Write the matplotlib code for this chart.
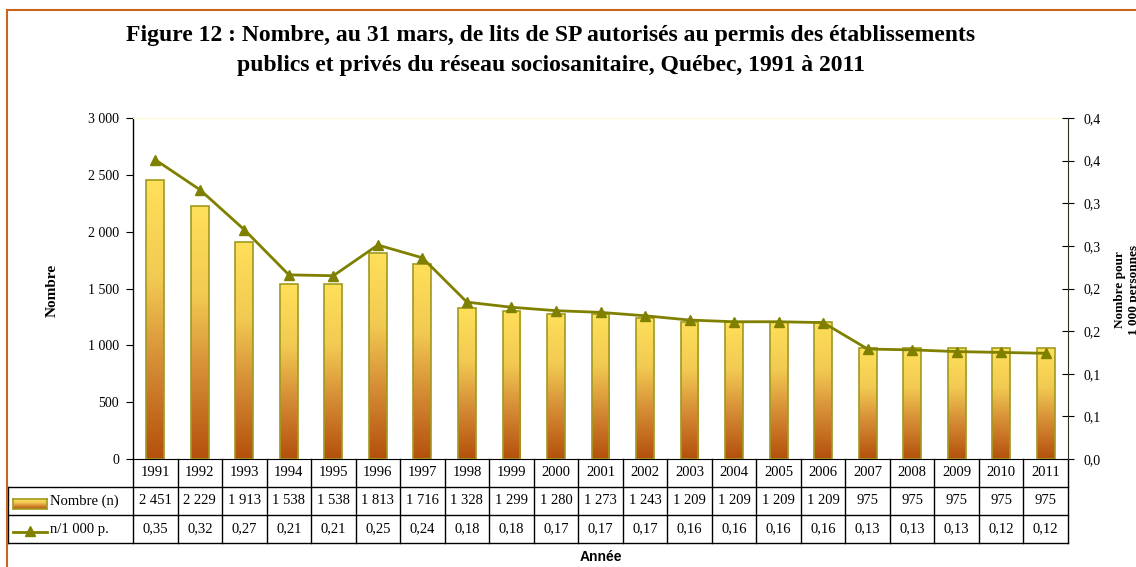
import matplotlib
matplotlib.use("Agg")
import matplotlib.pyplot as plt
import numpy as np
from matplotlib.colors import LinearSegmentedColormap
from matplotlib.patches import Rectangle
from matplotlib.lines import Line2D
from matplotlib.ticker import FuncFormatter

years = ["1991", "1992", "1993", "1994", "1995", "1996", "1997", "1998", "1999", "2000", "2001",
         "2002", "2003", "2004", "2005", "2006", "2007", "2008", "2009", "2010", "2011"]
nombre = [2451, 2229, 1913, 1538, 1538, 1813, 1716, 1328, 1299, 1280, 1273,
          1243, 1209, 1209, 1209, 1209, 975, 975, 975, 975, 975]
# taux (plus precis que le tableau)
taux = [0.351, 0.316, 0.269, 0.216, 0.215, 0.251, 0.236, 0.184, 0.178, 0.174, 0.172,
        0.168, 0.163, 0.161, 0.161, 0.160, 0.129, 0.128, 0.126, 0.125, 0.124]
taux_txt = ["0,35", "0,32", "0,27", "0,21", "0,21", "0,25", "0,24", "0,18", "0,18", "0,17", "0,17",
            "0,17", "0,16", "0,16", "0,16", "0,16", "0,13", "0,13", "0,13", "0,12", "0,12"]
left_ticks = [0, 500, 1000, 1500, 2000, 2500, 3000]
right_ticks = [0, 0.05, 0.1, 0.15, 0.2, 0.25, 0.3, 0.35, 0.4]
right_labels = ["0,0", "0,1", "0,1", "0,2", "0,2", "0,3", "0,3", "0,4", "0,4"]

SERIF = "Liberation Serif"
W, H = 1136, 567
OLIVE = "#808000"
ORANGE = "#C8641E"

grad = LinearSegmentedColormap.from_list(
    "bar", [(0, "#B4500C"), (0.35, "#D68E36"), (0.65, "#F2CA52"), (1, "#FFE05A")])
gvals = np.linspace(0, 1, 256).reshape(-1, 1)


def px(x, y):
    return x / W, 1 - y / H


def fmt_thousands(v):
    return f"{int(v):,}".replace(",", " ")


def main():
    plt.rcParams['font.family'] = [SERIF, 'DejaVu Serif']
    fig = plt.figure(figsize=(W / 100, H / 100), dpi=100)

    # cadre orange (seuls haut et gauche visibles)
    fig.patches.append(Rectangle(px(7, 600), (1200 - 7) / W, (600 - 10) / H,
                                 transform=fig.transFigure, fill=False,
                                 edgecolor=ORANGE, lw=1.5))

    left, right, top, bottom = 133, 1068, 118, 459
    ax = fig.add_axes([left / W, 1 - bottom / H, (right - left) / W, (bottom - top) / H])
    x = np.arange(len(years))

    bars = ax.bar(x, nombre, width=0.4, color="none", edgecolor="#A09A20", lw=1.2, zorder=3)
    for b in bars:
        bx, by = b.get_x(), b.get_y()
        im = ax.imshow(gvals, cmap=grad, origin="lower", aspect="auto",
                       extent=[bx, bx + b.get_width(), by, by + b.get_height()], zorder=2)
        im.set_clip_path(b)

    ax.set_xlim(-0.5, len(years) - 0.5)
    ax.set_ylim(0, 3000)
    ax.set_yticks(left_ticks)
    ax.yaxis.set_major_formatter(FuncFormatter(lambda v, p: fmt_thousands(v)))
    ax.tick_params(axis="y", direction="out", length=5, labelsize=10, pad=5)
    ax.set_xticks([])
    ax.spines["top"].set_color("#FFFBD0")
    ax.spines["right"].set_visible(False)
    ax.spines["left"].set_linewidth(1)

    ax2 = ax.twinx()
    ax2.plot(x, taux, color=OLIVE, lw=2, marker="^", markersize=7, zorder=4)
    ax2.set_ylim(0, 0.4)
    ax2.set_yticks(right_ticks)
    ax2.set_yticklabels(right_labels)
    ax2.tick_params(axis="y", direction="inout", length=8, labelsize=10, pad=7)
    ax2.spines["right"].set_color("#303020")
    ax2.spines["top"].set_visible(False)
    ax2.spines["left"].set_visible(False)
    ax2.spines["bottom"].set_visible(False)
    ax2.set_xlim(-0.5, len(years) - 0.5)

    # tableau sous le graphique
    rh = 28 / (bottom - top)
    tr = ax.get_xaxis_transform()
    xl = (8 - left) / (right - left)
    n = len(years)
    for i in range(n + 1):
        ax.add_line(Line2D([i - 0.5, i - 0.5], [0, -3 * rh], transform=tr, color="black",
                           lw=1, clip_on=False))
    for k in range(1, 4):
        x0 = 0 if k == 1 else xl
        ax.add_line(Line2D([x0, 1], [-k * rh, -k * rh], transform=ax.transAxes,
                           color="black", lw=1, clip_on=False))
    ax.add_line(Line2D([xl, 0], [-rh, -rh], transform=ax.transAxes, color="black",
                       lw=1, clip_on=False))
    ax.add_line(Line2D([xl, xl], [-rh, -3 * rh], transform=ax.transAxes, color="black",
                       lw=1, clip_on=False))
    for i in range(n):
        ax.text(i, -0.5 * rh, years[i], transform=tr, ha="center", va="center", fontsize=10.5)
        ax.text(i, -1.5 * rh, fmt_thousands(nombre[i]), transform=tr, ha="center",
                va="center", fontsize=10.5)
        ax.text(i, -2.5 * rh, taux_txt[i], transform=tr, ha="center", va="center",
                fontsize=10.5)

    lx = (50 - left) / (right - left)
    ax.text(lx, -1.5 * rh, "Nombre (n)", transform=ax.transAxes, ha="left", va="center",
            fontsize=10.5)
    ax.text(lx, -2.5 * rh, "n/1 000 p.", transform=ax.transAxes, ha="left", va="center",
            fontsize=10.5)

    # symboles de legende
    sw = fig.add_axes([13 / W, 1 - 509 / H, 34 / W, 10 / H])
    sw.imshow(gvals, cmap=grad, origin="lower", aspect="auto")
    for s in sw.spines.values():
        s.set_color("#A09A20")
        s.set_linewidth(1.2)
    sw.set_xticks([])
    sw.set_yticks([])
    fig.add_artist(Line2D([13 / W, 47 / W], [1 - 532 / H] * 2, color=OLIVE, lw=2))
    fig.add_artist(Line2D([30 / W], [1 - 531 / H], color=OLIVE, marker="^", markersize=7))

    # titres
    fig.text(*px(551, 36), "Figure 12 : Nombre, au 31 mars, de lits de SP autorisés au permis des établissements",
             ha="center", va="center", fontsize=17, fontweight="bold")
    fig.text(*px(551, 66), "publics et privés du réseau sociosanitaire, Québec, 1991 à 2011",
             ha="center", va="center", fontsize=17, fontweight="bold")
    fig.text(*px(52, 290), "Nombre", rotation=90, ha="center", va="center", fontsize=11,
             fontweight="bold")
    fig.text(*px(1127, 290), "Nombre pour\n1 000 personnes", rotation=90, ha="center",
             va="center", fontsize=9.5, fontweight="bold", multialignment="center")
    fig.text(*px(601, 557), "Année", ha="center", va="center", fontsize=10,
             fontweight="bold", family="Liberation Sans")

    fig.savefig("out.png", dpi=100)
    plt.close(fig)


if __name__ == "__main__":
    main()
